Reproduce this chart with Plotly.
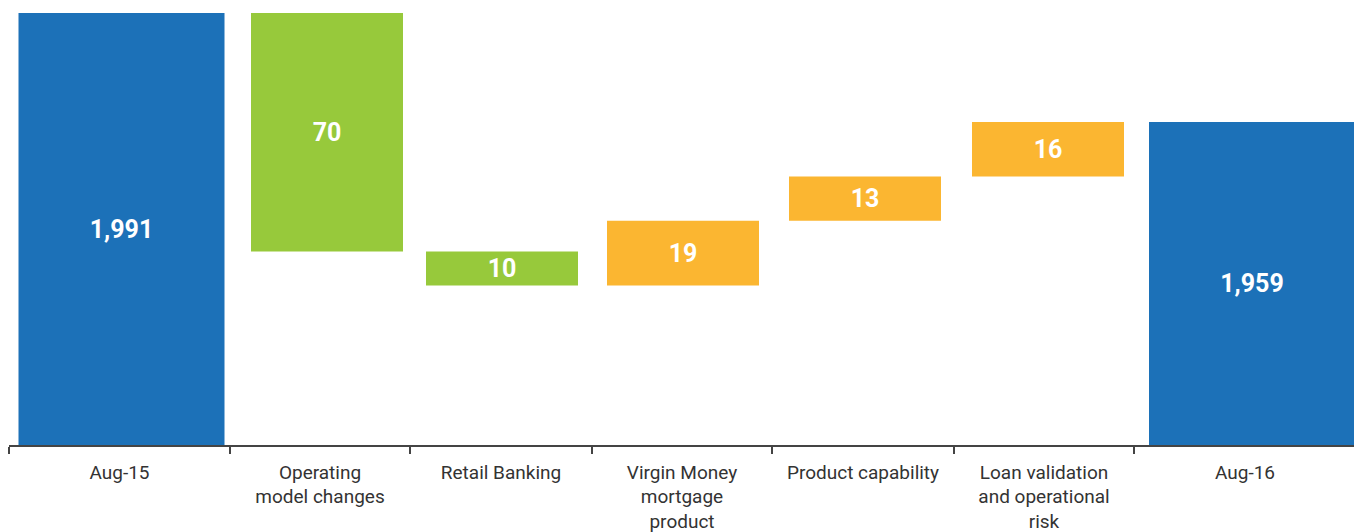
import plotly.graph_objects as go
import numpy as np

# data
categories = ["Aug-15", "Operating<br>model changes", "Retail Banking",
              "Virgin Money<br>mortgage<br>product", "Product capability",
              "Loan validation<br>and operational<br>risk", "Aug-16"]
measures = ["absolute", "relative", "relative", "relative", "relative", "relative", "total"]
changes = [1991, -70, -10, 19, 13, 16, 0]

# layout: slot widths (first/last slots are wider), bar widths and small nudges
slot_w = [221, 180, 182, 180, 182, 180, 222]
bar_w = [206, 152, 152, 152, 152, 152, 206]
bar_nudge = [2, 7, 1, 1, 2, 4, 7]
edges = np.concatenate([[0], np.cumsum(slot_w)])
centers = (edges[:-1] + edges[1:]) / 2

Y_FLOOR = 1864.2   # axis starts above zero, like the original
Y_TOP = 1991.9

BLUE = "#1c71b8"
GREEN = "#97c93b"
ORANGE = "#fbb631"
FONT = "Roboto, Arial, sans-serif"

# build waterfall pieces
level = 0
bases, heights, colors, texts = [], [], [], []
for m, c in zip(measures, changes):
    if m == "relative":
        bases.append(level)
        heights.append(c)
        colors.append(ORANGE if c > 0 else GREEN)
        texts.append(f"{abs(c):,}")
        level += c
    else:
        if m == "absolute":
            level = c
        bases.append(Y_FLOOR)
        heights.append(level - Y_FLOOR)
        colors.append(BLUE)
        texts.append(f"{level:,}")

fig = go.Figure(go.Bar(
    x=centers + np.array(bar_nudge),
    y=heights,
    base=bases,
    width=bar_w,
    marker=dict(color=colors, line=dict(width=0)),
    text=texts,
    textposition="inside",
    insidetextanchor="middle",
    textangle=0,
    textfont=dict(family=FONT, size=25, color="white", weight="bold"),
    hoverinfo="skip",
))

# the page body has an 8px margin, so the figure is shrunk by that amount
fig.update_layout(
    width=1354, height=524,
    margin=dict(l=1, r=6, t=2, b=87),
    paper_bgcolor="white",
    plot_bgcolor="rgba(0,0,0,0)",
    showlegend=False,
    uniformtext=dict(minsize=25, mode="show"),
    font=dict(family=FONT, color="#333333"),
)
fig.update_xaxes(
    range=[0, edges[-1]],
    tickvals=centers, ticktext=categories,
    ticks="", showgrid=False, zeroline=False,
    ticklabelstandoff=9,
    showline=True, linecolor="#444444", linewidth=1.5,
    tickfont=dict(family=FONT, size=19, color="#333333"),
    minor=dict(tickvals=list(edges), ticks="outside", ticklen=7,
               tickcolor="#444444", tickwidth=1.5, showgrid=False),
    automargin=False,
)
fig.update_yaxes(range=[Y_FLOOR, Y_TOP], visible=False, automargin=False)

fig.write_html("out.html")
